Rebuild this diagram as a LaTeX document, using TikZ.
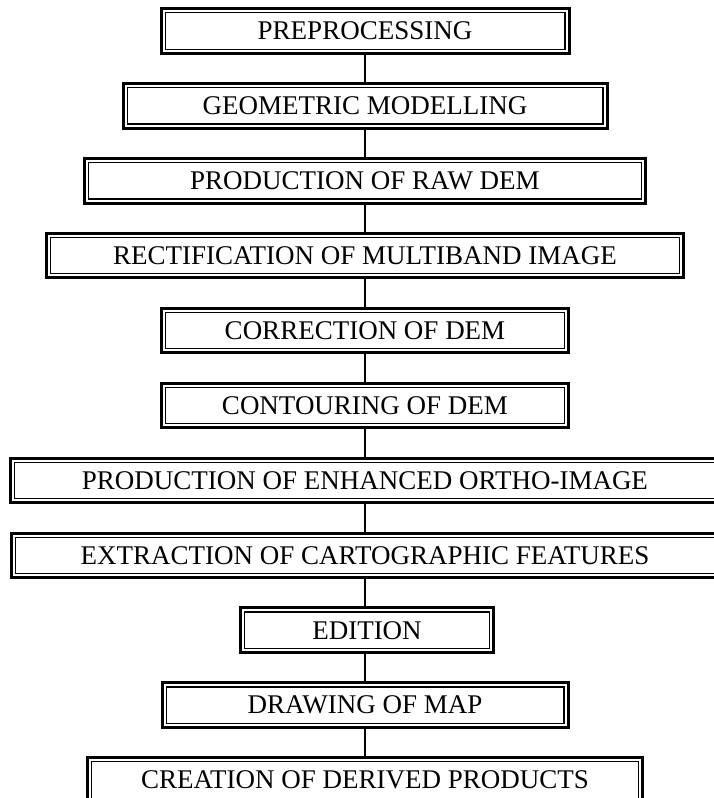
\documentclass[tikz,border=0pt]{standalone}
\usepackage{fontspec}
\setmainfont{Liberation Serif}
\tikzset{
  etape/.style={draw, line width=3pt, minimum height=44.5pt, inner sep=0pt,
    font=\fontsize{27}{30}\selectfont,
    path picture={\draw[line width=1.2pt]
      ([shift={(4.1pt,-4.1pt)}]path picture bounding box.north west) rectangle
      ([shift={(-4.1pt,4.1pt)}]path picture bounding box.south east);}},
  lien/.style={line width=1.6pt}
}
\begin{document}
\begin{tikzpicture}[x=1pt,y=1pt]
  \useasboundingbox (0,0) rectangle (714,798);
  % Etapes
  \node[etape, minimum width=408pt] (pretrait) at (365,767) {PREPROCESSING};
  \node[etape, minimum width=484pt] (modele) at (365,692.1) {GEOMETRIC MODELLING};
  \node[etape, minimum width=561pt] (mnebrut) at (365,617.2) {PRODUCTION OF RAW DEM};
  \node[etape, minimum width=637pt] (rectif) at (365,542.3) {RECTIFICATION OF MULTIBAND IMAGE};
  \node[etape, minimum width=407pt] (correct) at (365,467.4) {CORRECTION OF DEM};
  \node[etape, minimum width=407pt] (courbes) at (365,392.5) {CONTOURING OF DEM};
  \node[etape, minimum width=709pt] (ortho) at (365,317.6) {PRODUCTION OF ENHANCED ORTHO-IMAGE};
  \node[etape, minimum width=707pt] (extract) at (365,242.7) {EXTRACTION OF CARTOGRAPHIC FEATURES};
  \node[etape, minimum width=253pt] (edition) at (367,167.8) {EDITION};
  \node[etape, minimum width=406pt] (dessin) at (365,92.9) {DRAWING OF MAP};
  \node[etape, minimum width=555pt] (derives) at (365,18) {CREATION OF DERIVED PRODUCTS};
  % Liens
  \draw[lien] (pretrait) -- (modele);
  \draw[lien] (modele) -- (mnebrut);
  \draw[lien] (mnebrut) -- (rectif);
  \draw[lien] (rectif) -- (correct);
  \draw[lien] (correct) -- (courbes);
  \draw[lien] (courbes) -- (ortho);
  \draw[lien] (ortho) -- (extract);
  \draw[lien] (extract.south -| ortho.south) -- (edition.north -| ortho.south);
  \draw[lien] (edition.south -| ortho.south) -- (dessin.north);
  \draw[lien] (dessin) -- (derives);
\end{tikzpicture}
\end{document}
